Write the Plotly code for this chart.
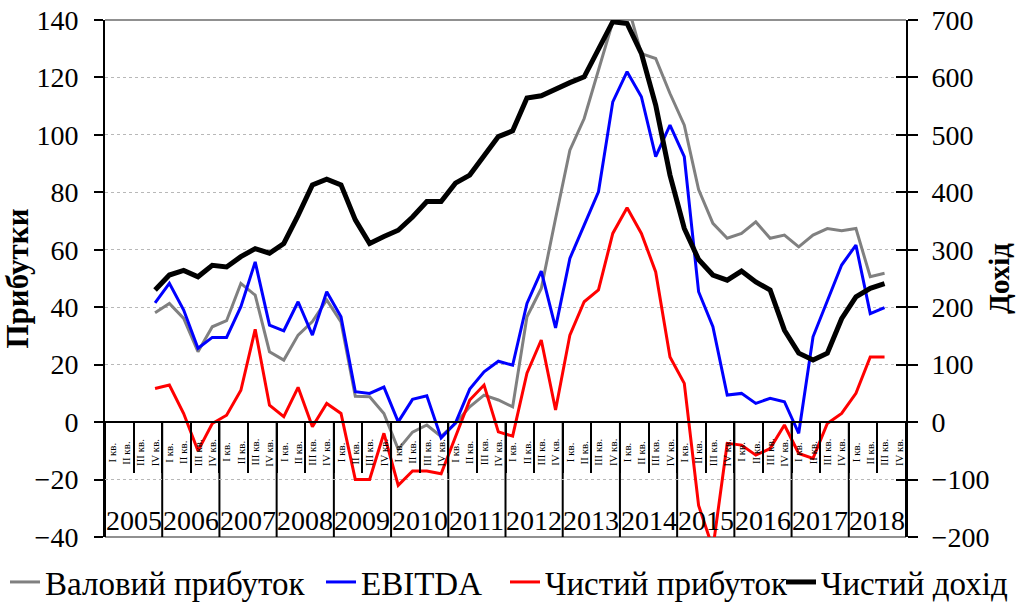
import plotly.graph_objects as go

years = [str(y) for y in range(2005, 2019)]
quarters = ["І кв.", "ІІ кв.", "ІІІ кв.", "IV кв."]
categories = [f"{y} {q}" for y in years for q in quarters]
start_index = 3  # data begins in the 4th quarter of 2005

gross_profit = [38.1, 41.3, 36.1, 24.5, 33.2, 35.3, 48.3, 44.2, 24.5, 21.6, 30.3, 35.0, 42.5,
                34.9, 9.0, 8.8, 3.0, -9.5, -3.5, -1.0, -5.0, -0.5, 5.3, 9.4, 7.7, 5.3, 36.7,
                46.5, 70.9, 94.7, 105.7, 122.6, 139.4, 146.0, 128.3, 126.6, 114.4, 103.4, 81.0,
                69.2, 64.0, 65.7, 69.7, 64.0, 65.1, 61.0, 65.1, 67.4, 66.6, 67.4, 50.6, 51.8]
ebitda = [41.5, 48.3, 39.0, 25.7, 29.5, 29.5, 40.2, 55.8, 33.8, 31.8, 41.9, 30.3, 45.4, 36.7,
          10.6, 10.0, 12.2, 0.1, 7.9, 9.2, -5.5, -0.3, 11.5, 17.5, 21.2, 19.8, 41.3, 52.6, 32.8,
          57.0, 68.6, 80.2, 111.5, 122.0, 113.3, 92.4, 103.4, 92.4, 45.4, 33.2, 9.4, 10.0, 6.5,
          8.3, 7.1, -3.9, 29.7, 42.5, 54.7, 61.6, 37.8, 39.9]
net_profit = [11.7, 12.9, 3.0, -10.0, -0.5, 2.4, 11.1, 32.3, 5.9, 1.9, 12.1, -1.6, 6.5, 3.0,
              -20.0, -20.0, -3.9, -22.0, -17.0, -17.0, -18.0, -5.0, 7.7, 12.9, -3.4, -4.9, 17.0,
              28.6, 4.2, 30.3, 41.9, 46.0, 65.7, 74.6, 65.7, 52.3, 22.7, 13.5, -29.0, -44.0,
              -7.4, -8.0, -11.5, -9.2, -1.0, -10.9, -12.6, -0.5, 3.0, 10.0, 22.7, 22.7]
net_income = [230, 256, 264, 253, 273, 270, 288, 302, 294, 311, 360, 413, 423, 413, 352, 311,
              323, 334, 357, 384, 384, 416, 430, 462, 497, 507, 564, 568, 580, 591, 601, 651,
              697, 694, 642, 552, 430, 337, 283, 256, 247, 263, 244, 230, 160, 120, 108, 120,
              180, 218, 233, 241]

series_names = ["Валовий прибуток", "EBITDA", "Чистий прибуток", "Чистий дохід"]
left_range = [-40, 140]
right_range = [-200, 700]

FONT = "Liberation Serif"
W, H = 1016, 603
x_data = categories[start_index:start_index + len(gross_profit)]

fig = go.Figure()
fig.add_trace(go.Scatter(x=x_data, y=gross_profit, name=series_names[0], mode="lines",
                         line=dict(color="#808080", width=3), legend="legend"))
fig.add_trace(go.Scatter(x=x_data, y=ebitda, name=series_names[1], mode="lines",
                         line=dict(color="#0000ff", width=3), legend="legend2"))
fig.add_trace(go.Scatter(x=x_data, y=net_profit, name=series_names[2], mode="lines",
                         line=dict(color="#ff0000", width=3), legend="legend3"))
fig.add_trace(go.Scatter(x=x_data, y=net_income, name=series_names[3], mode="lines",
                         line=dict(color="#000000", width=5), yaxis="y2", legend="legend4"))
# helper trace so the cross-tick overlay axis is drawn
fig.add_trace(go.Scatter(x=[categories[0]], y=[None], yaxis="y3", showlegend=False,
                         hoverinfo="skip"))

zero_pos = (0 - left_range[0]) / (left_range[1] - left_range[0])

shapes = []
for i in range(len(years) + 1):
    shapes.append(dict(type="line", xref="x", yref="y", x0=4 * i - 0.5, x1=4 * i - 0.5,
                       y0=0, y1=left_range[0], line=dict(color="black", width=2), layer="below"))
for yv in (0, 1):
    shapes.append(dict(type="line", xref="paper", yref="paper", x0=0, x1=1, y0=yv, y1=yv,
                       line=dict(color="#909090", width=2), layer="below"))

annotations = []
for i, y in enumerate(years):
    annotations.append(dict(x=4 * i + 1.5, y=-34.2, xref="x", yref="y", text=y, showarrow=False,
                            font=dict(family=FONT, size=28, color="black")))
for k, c in enumerate(categories):
    annotations.append(dict(x=k, y=-10.5, xref="x", yref="y", text=quarters[k % 4],
                            showarrow=False, textangle=-90,
                            font=dict(family=FONT, size=11, color="black")))

legend_left_px = [5, 321, 505, 781]
legend_center_y = 582


def legend_cfg(px):
    return dict(orientation="h", xref="container", yref="container", x=px / W, xanchor="left",
                y=1 - legend_center_y / H, yanchor="middle",
                font=dict(family=FONT, size=33, color="black"),
                itemwidth=30, bgcolor="rgba(0,0,0,0)", borderwidth=0)


fig.update_layout(
    width=W, height=H,
    margin=dict(l=105, r=110, t=20, b=66, autoexpand=False),
    paper_bgcolor="white", plot_bgcolor="white",
    font=dict(family=FONT, size=28, color="black"),
    showlegend=True,
    legend=legend_cfg(legend_left_px[0]),
    legend2=legend_cfg(legend_left_px[1]),
    legend3=legend_cfg(legend_left_px[2]),
    legend4=legend_cfg(legend_left_px[3]),
    xaxis=dict(type="category", categoryorder="array", categoryarray=categories,
               range=[-0.5, len(categories) - 0.5], anchor="free", position=zero_pos,
               showline=True, linecolor="black", linewidth=2,
               ticks="outside", tickson="boundaries", ticklen=50, tickwidth=2, tickcolor="black",
               showticklabels=False, showgrid=False, zeroline=False),
    yaxis=dict(range=left_range, dtick=20, showline=True, linecolor="black", linewidth=2,
               ticks="outside", ticklen=9, tickwidth=2, tickcolor="black", ticklabelstandoff=10,
               ticklabeloverflow="allow",
               showgrid=True, gridcolor="#b8b8b8", griddash="dot", gridwidth=1, zeroline=False,
               tickfont=dict(family=FONT, size=28, color="black"), automargin=False,
               title=dict(text="<b>Прибутки</b>", font=dict(family=FONT, size=31), standoff=4)),
    yaxis2=dict(range=right_range, dtick=100, overlaying="y", side="right", anchor="x",
                showline=True, linecolor="black", linewidth=2,
                ticks="outside", ticklen=10, tickwidth=2, tickcolor="black", ticklabelstandoff=8,
                ticklabeloverflow="allow",
                showgrid=False, zeroline=False,
                tickfont=dict(family=FONT, size=28, color="black"), automargin=False,
                title=dict(text="<b>Дохід</b>", font=dict(family=FONT, size=29), standoff=0)),
    yaxis3=dict(range=right_range, dtick=100, overlaying="y", side="right", anchor="x",
                showline=False, ticks="inside", ticklen=10, tickwidth=2, tickcolor="black",
                showticklabels=False, showgrid=False, zeroline=False, automargin=False),
    shapes=shapes,
    annotations=annotations,
)

# remove the browser's default page margin so the figure sits at the window origin
fig.write_html("out.html", config={"displayModeBar": False},
               post_script="document.body.style.margin='0';")
